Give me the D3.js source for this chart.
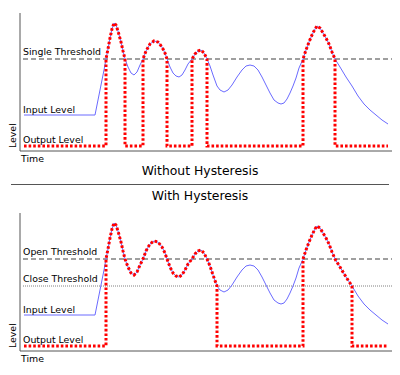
<!DOCTYPE html>
<html>
<head>
<meta charset="utf-8">
<script src="https://cdn.jsdelivr.net/npm/d3@7"></script>
<style>
  body { margin: 0; background: #fff; }
  text { font-family: "DejaVu Sans", sans-serif; fill: #000; }
</style>
</head>
<body>
<div id="chart"></div>
<script>
// input signal (time, level)
const inputTime = [4, 75, 80, 84, 86, 88, 90, 92, 94, 96, 98, 101, 103, 105, 108, 111, 114, 117, 120, 123,
    126, 130, 134, 138, 142, 145, 147, 150, 153, 156, 159, 162, 165, 168, 172, 175, 178, 181, 184, 187,
    190, 193, 197, 200, 204, 208, 212, 217, 222, 226, 230, 234, 238, 242, 246, 250, 254, 258, 261, 264,
    267, 270, 273, 276, 279, 283, 286, 289, 292, 295, 297, 300, 303, 306, 309, 312, 315, 320, 326, 332,
    338, 344, 350, 356, 362, 368];
const inputLevel = [36, 36, 61, 81, 92, 102, 113, 122, 128, 126, 120, 109, 100, 92, 84, 78, 76, 79, 86, 92,
    100, 107, 110, 109, 104, 98, 92, 84, 78, 75, 74, 76, 81, 87, 92, 97, 100, 101, 98, 92,
    85, 76, 65, 61, 59, 61, 66, 74, 81, 85, 86, 85, 81, 74, 66, 58, 51, 48, 47, 48,
    52, 58, 65, 73, 83, 92, 101, 109, 116, 122, 125, 123, 118, 113, 107, 99, 92, 84, 74, 65,
    55, 47, 41, 36, 31, 27];

const singleThreshold = 92;
const openThreshold = 92;
const closeThreshold = 65;
const outputLow = 5;
const outputStart = 4, outputEnd = 368;

// times where the output switches on / off
const switchOnPlain = [86, 123, 172, 283];
const switchOffPlain = [105, 147, 187, 315];
const switchOnHyst = [86, 283];
const switchOffHyst = [197, 332];

const width = 400, height = 375;

const svg = d3.select('#chart')
    .append('svg')
    .attr('width', width)
    .attr('height', height);

const xScale = d3.scaleLinear().domain([0, 372]).range([20, 392]);
const yScale = d3.scaleLinear().domain([0, 138]).range([151, 13]);

const input = inputTime.map((t, i) => ({ t: t, v: inputLevel[i] }));

function outputPoints(ons, offs) {
    let pts = [{ t: outputStart, v: outputLow }];
    ons.forEach((on, k) => {
        const off = offs[k];
        pts.push({ t: on, v: outputLow });
        input.filter(d => d.t >= on && d.t <= off).forEach(d => pts.push(d));
        pts.push({ t: off, v: outputLow });
    });
    pts.push({ t: outputEnd, v: outputLow });
    return pts;
}

const line = d3.line()
    .x(d => xScale(d.t))
    .y(d => yScale(d.v));

function panel(offsetY, labels, thresholds, ons, offs) {
    const g = svg.append('g').attr('transform', `translate(0,${offsetY})`);

    /* thresholds */
    thresholds.forEach(th => {
        g.append('line')
            .attr('x1', 23).attr('x2', xScale(372))
            .attr('y1', yScale(th.v)).attr('y2', yScale(th.v))
            .attr('stroke', '#808080')
            .attr('stroke-width', th.dash ? 1.3 : 1)
            .attr('stroke-dasharray', th.dash ? '5,3' : '1,1');
        g.append('text')
            .text(th.label)
            .attr('x', 23)
            .attr('y', yScale(th.v) - 4)
            .style('font-size', '9.4px');
    });

    /* axes */
    g.append('path')
        .attr('d', `M${xScale(0)},${yScale(138)}V${yScale(0)}H${xScale(372)}`)
        .attr('fill', 'none')
        .attr('stroke', '#555')
        .attr('stroke-width', 1);

    /* input level */
    g.append('path')
        .datum(input)
        .attr('fill', 'none')
        .attr('stroke', '#6b6bff')
        .attr('stroke-width', 1)
        .attr('d', line);

    /* output level */
    g.append('path')
        .datum(outputPoints(ons, offs))
        .attr('fill', 'none')
        .attr('stroke', '#ff0000')
        .attr('stroke-width', 3)
        .attr('stroke-dasharray', '2.6,2')
        .attr('d', line);

    g.append('text').text('Input Level')
        .attr('x', 23).attr('y', yScale(36) - 2.5)
        .style('font-size', '9.4px');
    g.append('text').text('Output Level')
        .attr('x', 23).attr('y', yScale(outputLow) - 3.5)
        .style('font-size', '9.4px');
    g.append('text').text('Time')
        .attr('x', 21).attr('y', yScale(0) + 10.5)
        .style('font-size', '9.4px');
    g.append('text').text('Level')
        .attr('transform', `translate(15.5,${yScale(0) - 3}) rotate(-90)`)
        .style('font-size', '9.4px');
}

panel(0, null,
    [{ v: singleThreshold, label: 'Single Threshold', dash: true }],
    switchOnPlain, switchOffPlain);

panel(200, null,
    [{ v: openThreshold, label: 'Open Threshold', dash: true },
     { v: closeThreshold, label: 'Close Threshold', dash: false }],
    switchOnHyst, switchOffHyst);

/* titles and separator */
svg.append('text')
    .text('Without Hysteresis')
    .attr('x', 200).attr('y', 175)
    .attr('text-anchor', 'middle')
    .style('font-size', '12.4px');

svg.append('line')
    .attr('x1', 11).attr('x2', 389)
    .attr('y1', 184.5).attr('y2', 184.5)
    .attr('stroke', '#555')
    .attr('stroke-width', 1);

svg.append('text')
    .text('With Hysteresis')
    .attr('x', 200).attr('y', 200)
    .attr('text-anchor', 'middle')
    .style('font-size', '12.4px');
</script>
</body>
</html>
